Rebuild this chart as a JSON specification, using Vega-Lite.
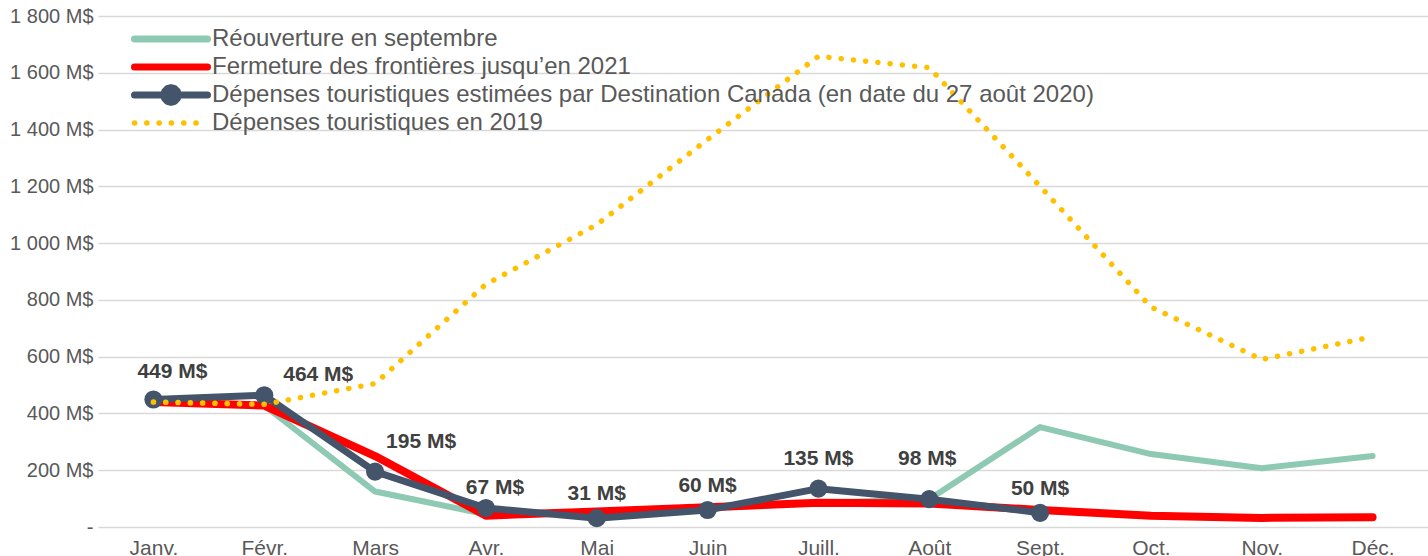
{
  "$schema": "https://vega.github.io/schema/vega-lite/v6.json",
  "width": 1330,
  "height": 511,
  "autosize": "none",
  "padding": {"left": 98, "top": 16, "right": 0, "bottom": 29},
  "background": "white",
  "config": {
    "view": {"stroke": null},
    "font": "Liberation Sans",
    "axis": {"labelFont": "Liberation Sans", "labelColor": "#595959", "labelFontSize": 20}
  },
  "data": {
    "values": [
      {"m": "Janv.", "s": "Réouverture en septembre", "v": 440},
      {"m": "Févr.", "s": "Réouverture en septembre", "v": 428},
      {"m": "Mars", "s": "Réouverture en septembre", "v": 125},
      {"m": "Avr.", "s": "Réouverture en septembre", "v": 45},
      {"m": "Mai", "s": "Réouverture en septembre", "v": 50},
      {"m": "Juin", "s": "Réouverture en septembre", "v": 65},
      {"m": "Juill.", "s": "Réouverture en septembre", "v": 85},
      {"m": "Août", "s": "Réouverture en septembre", "v": 98},
      {"m": "Sept.", "s": "Réouverture en septembre", "v": 352},
      {"m": "Oct.", "s": "Réouverture en septembre", "v": 257},
      {"m": "Nov.", "s": "Réouverture en septembre", "v": 207},
      {"m": "Déc.", "s": "Réouverture en septembre", "v": 250},
      {"m": "Janv.", "s": "Fermeture des frontières jusqu’en 2021", "v": 440},
      {"m": "Févr.", "s": "Fermeture des frontières jusqu’en 2021", "v": 428},
      {"m": "Mars", "s": "Fermeture des frontières jusqu’en 2021", "v": 250},
      {"m": "Avr.", "s": "Fermeture des frontières jusqu’en 2021", "v": 40},
      {"m": "Mai", "s": "Fermeture des frontières jusqu’en 2021", "v": 55},
      {"m": "Juin", "s": "Fermeture des frontières jusqu’en 2021", "v": 70},
      {"m": "Juill.", "s": "Fermeture des frontières jusqu’en 2021", "v": 85},
      {"m": "Août", "s": "Fermeture des frontières jusqu’en 2021", "v": 83},
      {"m": "Sept.", "s": "Fermeture des frontières jusqu’en 2021", "v": 60},
      {"m": "Oct.", "s": "Fermeture des frontières jusqu’en 2021", "v": 40},
      {"m": "Nov.", "s": "Fermeture des frontières jusqu’en 2021", "v": 32},
      {"m": "Déc.", "s": "Fermeture des frontières jusqu’en 2021", "v": 34},
      {"m": "Janv.", "s": "Dépenses touristiques estimées par Destination Canada (en date du 27 août 2020)", "v": 449},
      {"m": "Févr.", "s": "Dépenses touristiques estimées par Destination Canada (en date du 27 août 2020)", "v": 464},
      {"m": "Mars", "s": "Dépenses touristiques estimées par Destination Canada (en date du 27 août 2020)", "v": 195},
      {"m": "Avr.", "s": "Dépenses touristiques estimées par Destination Canada (en date du 27 août 2020)", "v": 67},
      {"m": "Mai", "s": "Dépenses touristiques estimées par Destination Canada (en date du 27 août 2020)", "v": 31},
      {"m": "Juin", "s": "Dépenses touristiques estimées par Destination Canada (en date du 27 août 2020)", "v": 60},
      {"m": "Juill.", "s": "Dépenses touristiques estimées par Destination Canada (en date du 27 août 2020)", "v": 135},
      {"m": "Août", "s": "Dépenses touristiques estimées par Destination Canada (en date du 27 août 2020)", "v": 98},
      {"m": "Sept.", "s": "Dépenses touristiques estimées par Destination Canada (en date du 27 août 2020)", "v": 50},
      {"m": "Janv.", "s": "Dépenses touristiques en 2019", "v": 440},
      {"m": "Févr.", "s": "Dépenses touristiques en 2019", "v": 432},
      {"m": "Mars", "s": "Dépenses touristiques en 2019", "v": 505},
      {"m": "Avr.", "s": "Dépenses touristiques en 2019", "v": 855},
      {"m": "Mai", "s": "Dépenses touristiques en 2019", "v": 1065},
      {"m": "Juin", "s": "Dépenses touristiques en 2019", "v": 1365},
      {"m": "Juill.", "s": "Dépenses touristiques en 2019", "v": 1658},
      {"m": "Août", "s": "Dépenses touristiques en 2019", "v": 1618},
      {"m": "Sept.", "s": "Dépenses touristiques en 2019", "v": 1200},
      {"m": "Oct.", "s": "Dépenses touristiques en 2019", "v": 775},
      {"m": "Nov.", "s": "Dépenses touristiques en 2019", "v": 590},
      {"m": "Déc.", "s": "Dépenses touristiques en 2019", "v": 670}
    ]
  },
  "encoding": {
    "x": {
      "field": "m", "type": "ordinal",
      "sort": ["Janv.", "Févr.", "Mars", "Avr.", "Mai", "Juin", "Juill.", "Août", "Sept.", "Oct.", "Nov.", "Déc."],
      "scale": {"type": "point", "padding": 0.5},
      "axis": {"title": null, "labelAngle": 0, "domain": false, "ticks": false, "grid": false, "labelPadding": 10, "labelFontSize": 21}
    },
    "y": {
      "field": "v", "type": "quantitative",
      "scale": {"domain": [0, 1800], "nice": false},
      "axis": {
        "title": null, "values": [0, 200, 400, 600, 800, 1000, 1200, 1400, 1600, 1800],
        "grid": true, "gridColor": "#d9d9d9", "gridWidth": 1.5, "domain": false, "ticks": false,
        "labelPadding": 5,
        "labelExpr": "datum.value == 0 ? '-' : replace(format(datum.value, ','), ',', ' ') + ' M$'"
      }
    },
    "color": {
      "field": "s", "type": "nominal",
      "scale": {
        "domain": ["Réouverture en septembre", "Fermeture des frontières jusqu’en 2021", "Dépenses touristiques estimées par Destination Canada (en date du 27 août 2020)", "Dépenses touristiques en 2019"],
        "range": ["#8ec9b3", "#ff0000", "#44546a", "#ffc000"]
      },
      "legend": {
        "title": null, "orient": "none", "legendX": 35, "legendY": 11, "padding": 0,
        "labelFont": "Liberation Sans", "labelFontSize": 24, "labelColor": "#595959", "labelLimit": 1200,
        "symbolType": "stroke", "symbolSize": 5329, "symbolOffset": 26, "labelOffset": 29, "rowPadding": 4,
        "encode": {
          "symbols": {
            "update": {
              "shape": {"signal": "datum.value === 'Dépenses touristiques estimées par Destination Canada (en date du 27 août 2020)' ? 'M-1,0L1,0M0.2,0L0.173,0.1L0.1,0.173L0,0.2L-0.1,0.173L-0.173,0.1L-0.2,0L-0.173,-0.1L-0.1,-0.173L0,-0.2L0.1,-0.173L0.173,-0.1Z' : 'stroke'"},
              "size": {"value": 5329},
              "stroke": {"scale": "color", "field": "value"},
              "fill": {"scale": "color", "field": "value"},
              "fillOpacity": {"value": 1},
              "strokeWidth": {"signal": "datum.value === 'Dépenses touristiques en 2019' ? 5.5 : 7"},
              "strokeDash": {"signal": "datum.value === 'Dépenses touristiques en 2019' ? [0.1, 12.2] : null"},
              "strokeCap": {"value": "round"},
              "strokeJoin": {"value": "round"}
            }
          }
        }
      }
    }
  },
  "layer": [
    {"transform": [{"filter": "datum.s === 'Réouverture en septembre'"}],
     "mark": {"type": "line", "strokeWidth": 6, "strokeCap": "round", "strokeJoin": "round"}},
    {"transform": [{"filter": "datum.s === 'Fermeture des frontières jusqu’en 2021'"}],
     "mark": {"type": "line", "strokeWidth": 8, "strokeCap": "round", "strokeJoin": "round"}},
    {"transform": [{"filter": "datum.s === 'Dépenses touristiques estimées par Destination Canada (en date du 27 août 2020)'"}],
     "mark": {"type": "line", "strokeWidth": 7, "strokeCap": "round", "strokeJoin": "round"}},
    {"transform": [{"filter": "datum.s === 'Dépenses touristiques estimées par Destination Canada (en date du 27 août 2020)'"}],
     "mark": {"type": "point", "filled": true, "size": 330, "opacity": 1}},
    {"transform": [{"filter": "datum.s === 'Dépenses touristiques en 2019'"}],
     "mark": {"type": "line", "strokeWidth": 5.5, "strokeCap": "round", "strokeDash": [0.1, 12.2]}},
    {"transform": [{"filter": "datum.s === 'Dépenses touristiques estimées par Destination Canada (en date du 27 août 2020)' && indexof(['Mai', 'Juin', 'Sept.'], datum.m) >= 0"}, {"calculate": "datum.v + ' M$'", "as": "lab"}],
     "mark": {"type": "text", "fontSize": 21, "fontWeight": "bold", "dy": -24, "baseline": "middle"},
     "encoding": {"text": {"field": "lab"}, "color": {"value": "#404040"}}},
    {"transform": [{"filter": "datum.s === 'Dépenses touristiques estimées par Destination Canada (en date du 27 août 2020)' && datum.m === 'Avr.'"}, {"calculate": "datum.v + ' M$'", "as": "lab"}],
     "mark": {"type": "text", "fontSize": 21, "fontWeight": "bold", "dx": 9, "dy": -20, "baseline": "middle"},
     "encoding": {"text": {"field": "lab"}, "color": {"value": "#404040"}}},
    {"transform": [{"filter": "datum.s === 'Dépenses touristiques estimées par Destination Canada (en date du 27 août 2020)' && datum.m === 'Janv.'"}, {"calculate": "datum.v + ' M$'", "as": "lab"}],
     "mark": {"type": "text", "fontSize": 21, "fontWeight": "bold", "dx": 19, "dy": -28, "baseline": "middle"},
     "encoding": {"text": {"field": "lab"}, "color": {"value": "#404040"}}},
    {"transform": [{"filter": "datum.s === 'Dépenses touristiques estimées par Destination Canada (en date du 27 août 2020)' && datum.m === 'Févr.'"}, {"calculate": "datum.v + ' M$'", "as": "lab"}],
     "mark": {"type": "text", "fontSize": 21, "fontWeight": "bold", "dx": 54, "dy": -20, "baseline": "middle"},
     "encoding": {"text": {"field": "lab"}, "color": {"value": "#404040"}}},
    {"transform": [{"filter": "datum.s === 'Dépenses touristiques estimées par Destination Canada (en date du 27 août 2020)' && datum.m === 'Mars'"}, {"calculate": "datum.v + ' M$'", "as": "lab"}],
     "mark": {"type": "text", "fontSize": 21, "fontWeight": "bold", "dx": 46, "dy": -30, "baseline": "middle"},
     "encoding": {"text": {"field": "lab"}, "color": {"value": "#404040"}}},
    {"transform": [{"filter": "datum.s === 'Dépenses touristiques estimées par Destination Canada (en date du 27 août 2020)' && datum.m === 'Juill.'"}, {"calculate": "datum.v + ' M$'", "as": "lab"}],
     "mark": {"type": "text", "fontSize": 21, "fontWeight": "bold", "dx": 0, "dy": -30, "baseline": "middle"},
     "encoding": {"text": {"field": "lab"}, "color": {"value": "#404040"}}},
    {"transform": [{"filter": "datum.s === 'Dépenses touristiques estimées par Destination Canada (en date du 27 août 2020)' && datum.m === 'Août'"}, {"calculate": "datum.v + ' M$'", "as": "lab"}],
     "mark": {"type": "text", "fontSize": 21, "fontWeight": "bold", "dx": -2, "dy": -40, "baseline": "middle"},
     "encoding": {"text": {"field": "lab"}, "color": {"value": "#404040"}}}
  ]
}
